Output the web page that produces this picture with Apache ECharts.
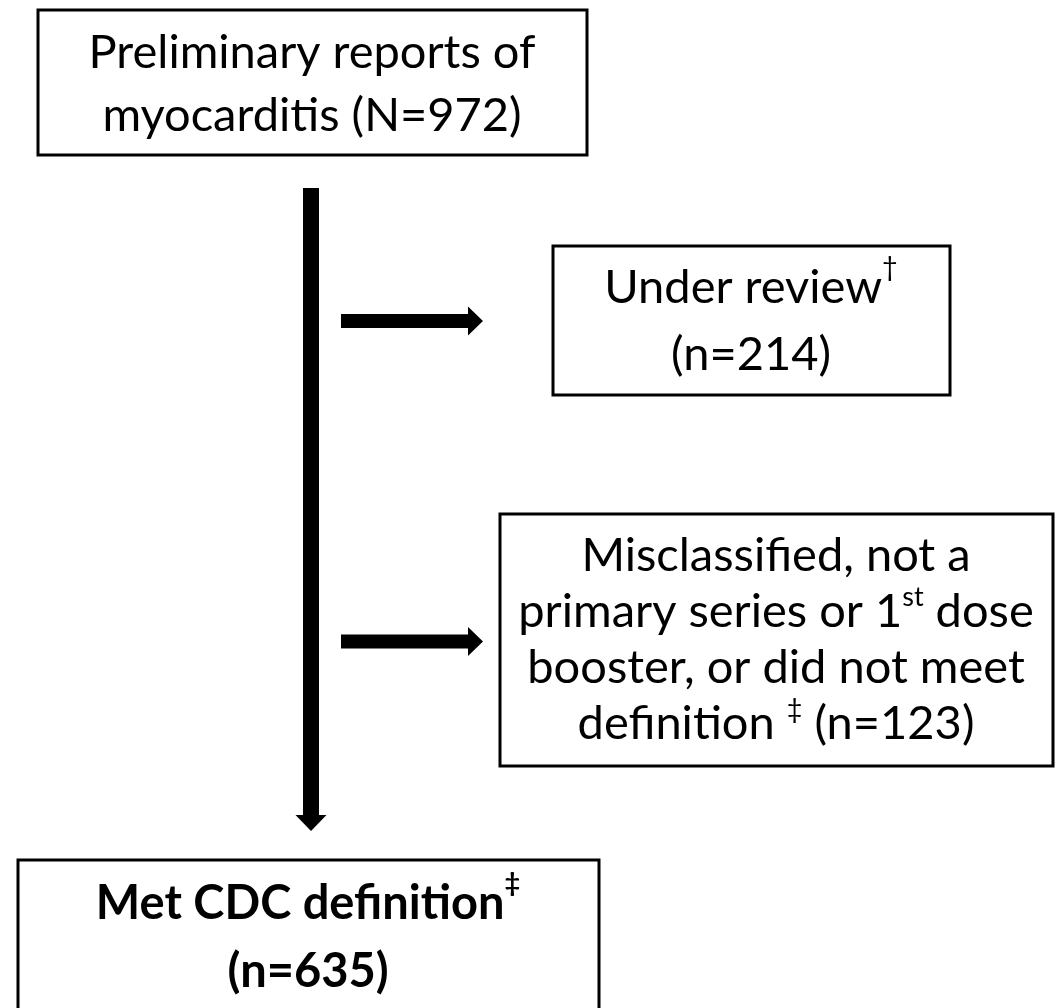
<!DOCTYPE html>
<html>
<head>
<meta charset="utf-8">
<script src="https://cdn.jsdelivr.net/npm/echarts@6/dist/echarts.min.js"></script>
<style>
  html, body { margin: 0; padding: 0; background: #fff; }
  #main { width: 1064px; height: 1008px; }
</style>
</head>
<body>
<div id="main"></div>
<script>
// flow counts
var stageKeys = ['reports', 'review', 'excluded', 'met'];
var stageCounts = [972, 214, 123, 635];

var FONT = 'Lato, "Open Sans", sans-serif';
var chart = echarts.init(document.getElementById('main'));

// text with superscripts, built from the counts
var texts = [
  '{a|Preliminary reports of}\n{a|myocarditis (N=' + stageCounts[0] + ')}',
  '{a|Under review}{s|†}\n{a|(n=' + stageCounts[1] + ')}',
  '{a|Misclassified, not a}\n{a|primary series or 1}{s|st}{a| dose}\n{a|booster, or did not meet}\n{a|definition }{s|‡}{a| (n=' + stageCounts[2] + ')}',
  '{a|Met CDC definition}{s|‡}\n{a|(n=' + stageCounts[3] + ')}'
];

// box layout: x, y, w, h
var boxes = [
  [38, 10, 549, 145],
  [553, 246, 397, 149],
  [500, 514, 553, 252],
  [18, 860, 581, 200]
];
var lineHeights = [63, 67, 56, 68];
var textCenters = [[312, 84], [751, 321], [776, 640], [308, 938]];

function rich(lh, bold) {
  var w = bold ? 'bold' : 'normal';
  return {
    a: { fontSize: 47, lineHeight: lh, fontFamily: FONT, fontWeight: w, color: '#000' },
    s: { fontSize: 27, lineHeight: lh - 14, verticalAlign: 'top', fontFamily: FONT, fontWeight: w, color: '#000' }
  };
}

function hArrow(x0, x1, y) {
  var t = 7, hh = 14.5, hl = 15;
  return {
    type: 'polygon',
    shape: { points: [[x0, y - t], [x1 - hl, y - t], [x1 - hl, y - hh], [x1, y], [x1 - hl, y + hh], [x1 - hl, y + t], [x0, y + t]] },
    style: { fill: '#000' }
  };
}
function vArrow(x, y0, y1) {
  var t = 8, hh = 15.5, hl = 16;
  return {
    type: 'polygon',
    shape: { points: [[x - t, y0], [x + t, y0], [x + t, y1 - hl], [x + hh, y1 - hl], [x, y1], [x - hh, y1 - hl], [x - t, y1 - hl]] },
    style: { fill: '#000' }
  };
}

var elements = [];
boxes.forEach(function (b, i) {
  elements.push({
    type: 'rect',
    shape: { x: b[0], y: b[1], width: b[2], height: b[3] },
    style: { fill: '#fff', stroke: '#000', lineWidth: 3 }
  });
  elements.push({
    type: 'text',
    x: textCenters[i][0], y: textCenters[i][1],
    style: {
      text: texts[i],
      rich: rich(lineHeights[i], stageKeys[i] === 'met'),
      align: 'center',
      verticalAlign: 'middle'
    }
  });
});
elements.push(vArrow(311, 188, 831));
elements.push(hArrow(341, 483, 321));
elements.push(hArrow(341, 483, 641.5));

chart.setOption({
  backgroundColor: '#fff',
  animation: false,
  graphic: { elements: elements }
});
</script>
</body>
</html>
